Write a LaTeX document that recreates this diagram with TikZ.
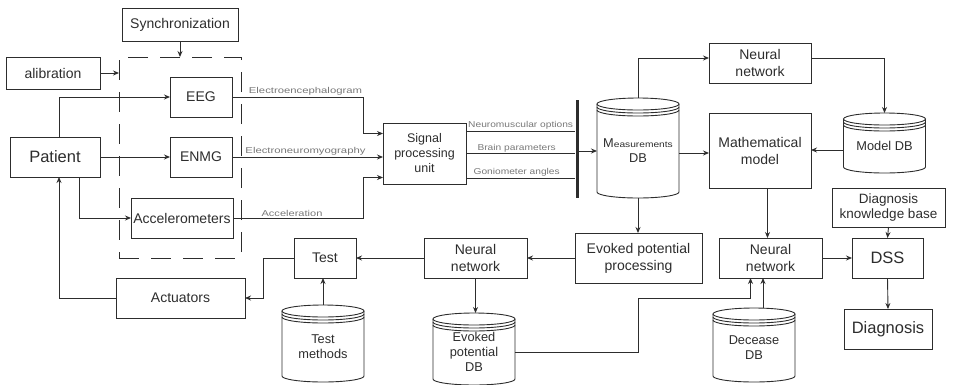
\documentclass[tikz,border=0pt]{standalone}
\usepackage{fontspec}
\setmainfont{Liberation Sans}
\usepackage{tikz}
\usetikzlibrary{arrows.meta, calc}
\definecolor{ink}{RGB}{45,45,45}
\definecolor{faint}{RGB}{120,120,120}

\newcommand{\dbcyl}[4]{%
\node[dbbox, minimum height=#3] (#1) at (#2) {#4};
\draw[line] (#1.north west) -- ([yshift=6pt]#1.south west) arc[start angle=180, end angle=360, x radius=41pt, y radius=6pt] -- (#1.north east);
\draw[line] (#1.north) ellipse[x radius=41pt, y radius=6pt];
\draw[line] ([yshift=-3pt]#1.north west) arc[start angle=180, end angle=360, x radius=41pt, y radius=6pt];
\draw[line] ([yshift=-6pt]#1.north west) arc[start angle=180, end angle=360, x radius=41pt, y radius=6pt];
}

\begin{document}
\begin{tikzpicture}[x=1pt, y=1pt,
  line/.style={draw=ink, line width=0.9pt},
  arr/.style={line, -{Stealth[length=6pt, width=5pt]}},
  box/.style={line, minimum height=40pt, inner sep=1pt, outer sep=0pt, align=center, text=ink, font=\fontsize{14}{17}\selectfont},
  bigbox/.style={box, font=\fontsize{16.5}{19}\selectfont},
  dbbox/.style={minimum width=82pt, inner sep=1pt, outer sep=0pt, align=center, text=ink, font=\fontsize{12.8}{15}\selectfont},
  frame/.style={draw=ink, line width=0.9pt, dash pattern=on 20pt off 12pt, inner sep=0pt, outer sep=0pt},
  lab/.style={text=faint, inner sep=1pt, font=\fontsize{8.5}{9}\selectfont}]
\useasboundingbox (0,0) rectangle (958,-384);

\node[box, minimum width=116pt, minimum height=33pt] (sync) at (180,-24.5) {Synchronization};
\node[box, minimum width=94pt, minimum height=32pt] (calib) at (53,-73) {alibration};
\node[frame, minimum width=122pt, minimum height=201pt] (frame) at (180,-157.5) {};
\node[box, minimum width=62pt] (eeg) at (201,-97) {EEG};
\node[box, minimum width=62pt] (enmg) at (201,-157) {ENMG};
\node[bigbox, minimum width=90pt] (patient) at (55,-157) {Patient};
\node[box, minimum width=102pt] (accel) at (182,-218) {Accelerometers};
\node[box, minimum width=129pt] (act) at (180.5,-298) {Actuators};
\node[box, minimum width=83pt, minimum height=61pt, font=\fontsize{12.5}{15}\selectfont] (spu) at (424.5,-153.5) {Signal\\processing\\unit};
\node[fill=ink, minimum width=3pt, minimum height=98pt, inner sep=0pt] (bus) at (577,-149) {};
\node[box, minimum width=102pt] (nn1) at (760,-63) {Neural\\network};
\node[box, minimum width=102pt, minimum height=75pt] (math) at (760,-150.5) {Mathematical\\model};
\node[box, minimum width=113pt, minimum height=39pt, font=\fontsize{13.5}{15}\selectfont] (dkb) at (888.5,-207.5) {Diagnosis\\knowledge base};
\node[bigbox, minimum width=71pt] (dss) at (887.5,-258) {DSS};
\node[bigbox, minimum width=88pt] (diag) at (888,-329) {Diagnosis};
\node[box, minimum width=103pt] (nn3) at (770.5,-258) {Neural\\network};
\node[box, minimum width=127pt, minimum height=50pt] (epp) at (638.5,-258) {Evoked potential\\processing};
\node[box, minimum width=103pt] (nn2) at (475.5,-258) {Neural\\network};
\node[box, minimum width=62pt] (test) at (325,-258) {Test};

\dbcyl{measdb}{638,-151}{94pt}{M{\fontsize{8.5}{9}\selectfont\scalebox{1.2}[1]{easurements}}\\DB}
\dbcyl{modeldb}{884.5,-146}{54pt}{Model DB}
\dbcyl{testdb}{323,-346.5}{71pt}{Test\\methods}
\dbcyl{epdb}{474,-352}{66pt}{Evoked\\potential\\DB}
\dbcyl{decdb}{754,-348}{68pt}{Decease\\DB}

\coordinate (sbend) at (363,0);
\coordinate (tbend) at (263,0);
\coordinate (ebend) at (638,-298);

\draw[arr] (sync.south) -- (frame.north);
\draw[arr] (calib.east) -- (calib.east -| frame.west);
\draw[arr] ([xshift=4pt]patient.north) |- (eeg.west);
\draw[arr] (patient.east) -- (enmg.west);
\draw[arr] ([xshift=24pt]patient.south) |- (accel.west);
\draw[arr] (act.west) -| ([xshift=4pt]patient.south);

\draw[arr] (eeg.east) -- node[lab, above, xshift=8pt]{\scalebox{1.33}[1]{Electroencephalogram}} (eeg.east -| sbend) |- ([yshift=20pt]spu.west);
\draw[arr] (enmg.east) -- node[lab, above, xshift=-2pt]{\scalebox{1.33}[1]{Electroneuromyography}} (enmg.east -| spu.west);
\draw[arr] (accel.east) -- node[lab, above, xshift=-6pt]{\scalebox{1.3}[1]{Acceleration}} (accel.east -| sbend) |- ([yshift=-24pt]spu.west);

\draw[line] ([yshift=22.5pt]spu.east) -- node[lab, above]{\scalebox{1.2}[1]{Neuromuscular options}} ([yshift=22.5pt]spu.east -| bus.west);
\draw[line] (spu.east) -- node[lab, above, xshift=-4pt]{\scalebox{1.2}[1]{Brain parameters}} (spu.east -| bus.west);
\draw[line] ([yshift=-24.5pt]spu.east) -- node[lab, above, xshift=-4pt]{\scalebox{1.2}[1]{Goniometer angles}} ([yshift=-24.5pt]spu.east -| bus.west);

\draw[arr] (bus.east |- measdb.west) -- (measdb.west);
\draw[arr] ([yshift=-2pt]measdb.east) -- ([yshift=-2pt]measdb.east -| math.west);
\draw[arr] ([yshift=6pt]measdb.north) |- ([yshift=5pt]nn1.west);
\draw[arr] ([yshift=5pt]nn1.east) -| ([yshift=6pt]modeldb.north);
\draw[arr] ([yshift=-4pt]modeldb.west) -- ([yshift=-4pt]modeldb.west -| math.east);
\draw[arr] (measdb.south) -- (measdb.south |- epp.north);
\draw[arr] ([xshift=-3pt]nn3.north |- math.south) -- ([xshift=-3pt]nn3.north);

\draw[arr] (epp.west) -- (nn2.east);
\draw[arr] (nn2.west) -- (test.east);
\draw[arr] (test.west) -- (test.west -| tbend) |- (act.east);
\draw[arr] ([yshift=6pt]testdb.north) -- (testdb.north |- test.south);
\draw[arr] (nn2.south) -- ([yshift=6pt]nn2.south |- epdb.north);
\draw[arr] (epdb.east) -| (ebend) -| ([xshift=-20pt]nn3.south);
\draw[arr] ([xshift=9pt, yshift=6pt]decdb.north) -- ([xshift=9pt]decdb.north |- nn3.south);

\draw[arr] (nn3.east) -- (dss.west);
\draw[arr] (dkb.south) -- (dss.north);
\draw[arr] (dss.south) -- (diag.north);
\end{tikzpicture}
\end{document}
